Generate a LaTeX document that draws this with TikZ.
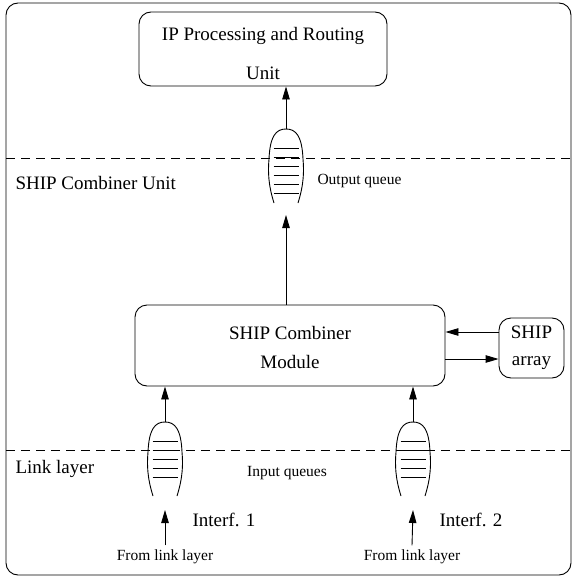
\documentclass[tikz,border=0pt]{standalone}
\usepackage{fontspec}
\setmainfont{Liberation Serif}
\usetikzlibrary{arrows.meta,calc}
\tikzset{
  ln/.style={line width=0.9pt},
  arr/.style={ln,-{Triangle[length=13pt,width=7.5pt]}},
  box/.style={ln,draw,rounded corners=12pt,inner sep=0pt},
  big/.style={font=\fontsize{19}{22}\selectfont,align=center},
  small/.style={font=\fontsize{15.5}{18}\selectfont},
  sep/.style={ln,dash pattern=on 9pt off 6pt},
}
\newcommand\fifoshape[4]{% name, cx, top y, number of lines
  \coordinate (#1top) at (#2,#3);
  \coordinate (#1bot) at (#2,#3+82);
  \draw[ln] (#2-12,#3+74) .. controls (#2-18,#3+55) and (#2-18,#3+42) .. (#2-17,#3+30)
     .. controls (#2-16,#3+7) and (#2-10,#3) .. (#2,#3)
     .. controls (#2+10,#3) and (#2+16,#3+7) .. (#2+17,#3+30)
     .. controls (#2+18,#3+42) and (#2+18,#3+55) .. (#2+12,#3+74);
  \foreach \k in {1,...,#4} {
    \draw[ln] (#2-12.5,#3+10+9*\k) -- (#2+12.5,#3+10+9*\k);
  }
}
\begin{document}
\begin{tikzpicture}[x=1pt,y=-1pt]
\useasboundingbox (0,0) rectangle (576,578);
% frame
\draw[ln,rounded corners=12pt] (6,3) rectangle (571,575);
% separators
\coordinate (s1l) at (6,158); \coordinate (s1r) at (571,158);
\coordinate (s2l) at (6,450); \coordinate (s2r) at (571,450);
\draw[sep] (s1l) -- (s1r);
\draw[sep] (s2l) -- (s2r);
% boxes
\node[box,minimum width=248pt,minimum height=74pt] (ip) at (263,49) {};
\node[big] (iptext) at ($(ip.center)+(0,4.5)$) {IP Processing and Routing\\[17pt]Unit};
\node[box,minimum width=310pt,minimum height=81pt] (cm) at (290,345.5) {};
\node[big] (cmtext) at ($(cm.center)+(0,1.5)$) {SHIP Combiner\\[7pt]Module};
\node[box,minimum width=65pt,minimum height=60pt] (sa) at (531.5,348) {};
\node[big] (satext) at (sa.center) {SHIP\\[5pt]array};
% queues
\fifoshape{oq}{286}{129}{6}
\fifoshape{qa}{165}{422}{5}
\fifoshape{qb}{413}{422}{5}
% labels
\node[big,anchor=west] (lcu) at (12,183) {SHIP Combiner Unit};
\node[small,anchor=west] (loq) at (314,181) {Output queue};
\node[big,anchor=west] (lll) at (12,469) {Link layer};
\node[small] (liq) at (287,473) {Input queues};
\node[big] (if1) at (224,520) {Interf. 1};
\node[big] (if2) at (471,520) {Interf. 2};
\node[small] (fa) at (165,557) {From link layer};
\node[small] (fb) at (412,557) {From link layer};
% arrows
\draw[arr] (oqtop) -- (oqtop |- ip.south);
\draw[arr] (oqtop |- cm.north) -- ($(oqbot)+(0,4)$);
\draw[arr] (qatop) -- (qatop |- cm.south);
\draw[arr] (qbtop) -- (qbtop |- cm.south);
\draw[arr] (sa.west |- 0,332) -- (cm.east |- 0,332);
\draw[arr] (cm.east |- 0,359) -- (sa.west |- 0,359);
\draw[arr] ($(fa.north)+(0,-1)$) -- ($(qabot)+(0,6)$);
\draw[arr] ($(fb.north)+(0,-1)$) -- ($(qbbot)+(0,6)$);
\end{tikzpicture}
\end{document}
